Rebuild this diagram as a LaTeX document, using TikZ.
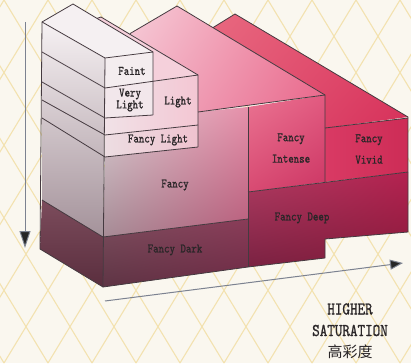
\documentclass[tikz,border=0pt]{standalone}
\usepackage{fontspec}
\newfontfamily\lblfont{lmmono10-regular.otf}[FakeStretch=0.8, FakeBold=1]
\newfontfamily\cjk{Noto Sans CJK SC}
\usetikzlibrary{arrows.meta, positioning, shadings}
\usepackage{xcolor}

\definecolor{paper}{HTML}{FAF7EF}
\definecolor{trellis}{HTML}{F3E2B0}
\definecolor{edgec}{HTML}{453A40}
\definecolor{axisc}{HTML}{7C8290}
\definecolor{txt}{HTML}{2A2628}
% vivid block roof
\definecolor{vrA}{HTML}{E8687F}\definecolor{vrB}{HTML}{E04466}
\definecolor{vrC}{HTML}{E25877}\definecolor{vrD}{HTML}{D6305A}
% intense block roof
\definecolor{irA}{HTML}{F6CCD8}\definecolor{irB}{HTML}{EE7A98}
\definecolor{irC}{HTML}{F2B2C5}\definecolor{irD}{HTML}{E8668A}
\definecolor{lightroof}{HTML}{F5D0DB}
\definecolor{faintroof}{HTML}{F5F0F2}
% left face
\definecolor{sideA}{HTML}{F6F1F3}\definecolor{sideB}{HTML}{E0D5D9}
\definecolor{sideC}{HTML}{A4929A}
\definecolor{sideD}{HTML}{7C4C5C}\definecolor{sideE}{HTML}{5A2E3E}
% fronts
\definecolor{faintc}{HTML}{F4EDEF}
\definecolor{verylightc}{HTML}{F2E7EB}
\definecolor{lightA}{HTML}{F1E2E7}\definecolor{lightB}{HTML}{F3C6D3}
\definecolor{flA}{HTML}{EDDDE2}\definecolor{flB}{HTML}{EFC2CF}
\definecolor{fA}{HTML}{DCCFD4}\definecolor{fB}{HTML}{E690AA}
\definecolor{fC}{HTML}{A68C96}\definecolor{fD}{HTML}{B65C7A}
\definecolor{fdA}{HTML}{7C4E5E}\definecolor{fdB}{HTML}{8A3C58}
\definecolor{fdC}{HTML}{5E3444}\definecolor{fdD}{HTML}{6C2A44}
\definecolor{fiA}{HTML}{EA7492}\definecolor{fiB}{HTML}{E25A80}
\definecolor{fiC}{HTML}{D84A72}\definecolor{fiD}{HTML}{CC3664}
\definecolor{fvA}{HTML}{D93A64}\definecolor{fvB}{HTML}{CD2C56}
\definecolor{dpA}{HTML}{B03C62}\definecolor{dpB}{HTML}{B42250}
\definecolor{dpC}{HTML}{7A2242}\definecolor{dpD}{HTML}{861A3A}

\begin{document}
\begin{tikzpicture}[
    x=1pt, y=-1pt,
    edge/.style={draw=edgec, line width=0.8pt, line join=round},
    lattice/.style={draw=trellis, line width=1.1pt},
    axis/.style={draw=axisc, line width=1pt},
    lbl/.style={font=\lblfont\fontsize{13}{10.5}\selectfont, text=txt, align=center, inner sep=0pt},
    title/.style={font=\lblfont\fontsize{18}{21.5}\selectfont, text=txt, align=center, inner sep=0pt}
]
\useasboundingbox (0,0) rectangle (411,363);
\fill[paper] (0,0) rectangle (411,363);

% background trellis
\begin{scope}
  \clip (0,0) rectangle (411,363);
  \foreach \s in {-260,-216,...,420} {
    \draw[lattice] (\s,0) -- (\s+220,363);
    \draw[lattice] (\s+220,0) -- (\s,363);
  }
\end{scope}

% back blocks: roofs
\shade[upper left=vrA, upper right=vrB, lower left=vrC, lower right=vrD]
  (213,27.6) -- (235,14) -- (408,117) -- (325,128) -- (325,95) -- cycle;
\shade[upper left=irA, upper right=irB, lower left=irC, lower right=irD]
  (130,33.6) -- (177,6) -- (325,95) -- (198,112) -- (198,75) -- cycle;
\fill[lightroof] (97,18.4) -- (101,17) -- (198,75) -- (153,82) -- (153,52) -- cycle;
\fill[faintroof] (42,22) -- (73,4) -- (153,52) -- (105,58) -- cycle;

% left face
\shade[top color=sideA, middle color=sideB, bottom color=sideC]
  (42,22) -- (105,58) -- (103,237) -- (42,200) -- cycle;
\shade[top color=sideD, bottom color=sideE]
  (42,200) -- (103,237) -- (103,287) -- (40,249) -- cycle;

% front faces
\fill[faintc] (105,58) -- (153,52) -- (153,82) -- (105,88) -- cycle;
\fill[verylightc] (105,88) -- (153,82) -- (153,115) -- (105,118) -- cycle;
\shade[left color=lightA, right color=lightB]
  (153,82) -- (198,75) -- (198,125) -- (105,135) -- (105,118) -- (153,115) -- cycle;
\shade[left color=flA, right color=flB]
  (105,135) -- (198,125) -- (198,147) -- (105,157) -- cycle;
\shade[upper left=fA, upper right=fB, lower left=fC, lower right=fD]
  (105,157) -- (198,147) -- (198,112) -- (248,107) -- (248,219) -- (103,237) -- cycle;
\shade[upper left=fdA, upper right=fdB, lower left=fdC, lower right=fdD]
  (103,237) -- (248,219) -- (248,267) -- (103,287) -- cycle;
\shade[upper left=fiA, upper right=fiB, lower left=fiC, lower right=fiD]
  (248,107) -- (325,95) -- (325,182) -- (248,192) -- cycle;
\shade[left color=fvA, right color=fvB]
  (325,128) -- (408,118) -- (408,172) -- (325,182) -- cycle;
\shade[upper left=dpA, upper right=dpB, lower left=dpC, lower right=dpD]
  (248,192) -- (408,172) -- (408,232) -- (325,239) -- (325,258) -- (248,267) -- cycle;

% edges
\draw[edge] (213,27.6) -- (235,14) -- (408,117) -- (408,232) -- (325,239) -- (325,258) -- (248,267) -- (103,287) -- (40,249) -- (42,22) -- (73,4) -- (153,52);
\draw[edge] (130,33.6) -- (177,6) -- (325,95) -- (325,182);
\draw[edge] (97,18.4) -- (101,17) -- (198,75) -- (198,147);
\draw[edge] (42,22) -- (105,58) -- (153,52) -- (153,115);
\draw[edge] (105,58) -- (103,287);
\draw[edge] (42,52) -- (105,88) -- (198,75);
\draw[edge] (42,82) -- (105,118) -- (153,115);
\draw[edge] (42,100) -- (105,135) -- (198,125);
\draw[edge] (42,118) -- (105,157) -- (198,147);
\draw[edge] (42,200) -- (103,237) -- (248,219);
\draw[edge] (198,112) -- (325,95);
\draw[edge] (325,128) -- (408,118);
\draw[edge] (248,107) -- (248,267);
\draw[edge] (248,192) -- (408,172);

% labels
\node[lbl] (faint) at (132,71) {Faint};
\node[lbl] (verylight) at (130,100) {Very\\Light};
\node[lbl] (light) at (178,102) {Light};
\node[lbl] (fancylight) at (158,140) {Fancy Light};
\node[lbl] (fancy) at (175,185) {Fancy};
\node[lbl] (fancydark) at (175,250) {Fancy Dark};
\node[lbl] (intense) at (291,148) {Fancy\\[9.5pt]Intense};
\node[lbl] (vivid) at (369,149) {Fancy\\[9.5pt]Vivid};
\node[lbl] (deep) at (302,218) {Fancy Deep};
\node[title] (saturation) at (350,331) {HIGHER\\SATURATION\\{\cjk\fontsize{15}{21.5}\selectfont 高彩度}};

% axes
\coordinate (lighttop) at (25,22);
\coordinate (darkend) at (25,248);
\coordinate (satstart) at (105,301);
\coordinate (satend) at (403,263);
\draw[axis, -{Triangle[length=17pt, width=11pt, fill=black!85]}] (lighttop) -- (darkend);
\draw[axis, -{Triangle[length=13pt, width=10pt, fill=black!85]}] (satstart) -- (satend);

\end{tikzpicture}
\end{document}
